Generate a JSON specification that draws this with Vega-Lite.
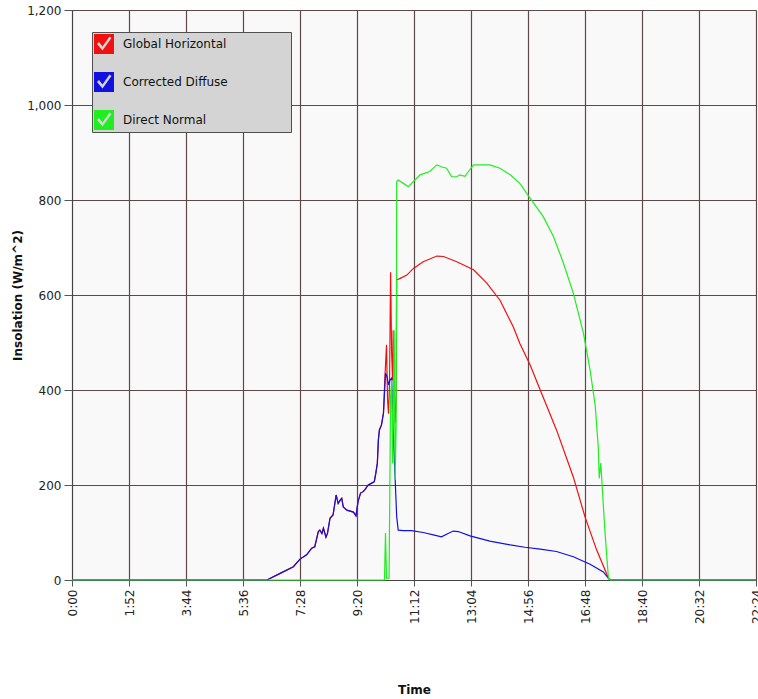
{
  "$schema": "https://vega.github.io/schema/vega-lite/v6.json",
  "width": 684,
  "height": 570,
  "autosize": {"type": "none"},
  "padding": {"left": 72, "top": 10, "right": 2, "bottom": 119},
  "background": "#ffffff",
  "config": {
    "view": {"fill": "#f9f9f9", "stroke": null},
    "font": "DejaVu Sans"
  },
  "datasets": {
    "gh": [[0,0],[383,0],[409,14],[435,28],[448,44],[461,53],[471,67],[477,70],[484,102],[487,105],[491,98],[494,109],[499,90],[502,98],[507,130],[513,137],[519,179],[523,161],[527,168],[530,172],[533,154],[540,147],[553,143],[558,135],[562,165],[567,183],[572,186],[576,191],[582,200],[589,204],[594,207],[597,225],[600,246],[602,295],[604,316],[608,326],[612,351],[615,430],[618,495],[620,380],[622,350],[624,420],[626,648],[628,480],[630,420],[631,526],[633,420],[635,330],[637,380],[638,632],[645,635],[658,642],[671,656],[690,670],[717,682],[730,681],[756,670],[789,653],[815,625],[841,589],[867,533],[880,498],[900,453],[920,400],[952,316],[985,217],[1008,133],[1031,63],[1054,4],[1057,0],[1344,0]],
    "cd": [[0,0],[383,0],[409,14],[435,28],[448,44],[461,53],[471,67],[477,70],[484,102],[487,105],[491,98],[494,109],[499,90],[502,98],[507,130],[513,137],[519,179],[523,161],[527,168],[530,172],[533,154],[540,147],[553,143],[558,135],[562,165],[567,183],[572,186],[576,191],[582,200],[589,204],[594,207],[597,225],[600,246],[602,295],[604,316],[608,326],[612,351],[614,393],[616,435],[619,428],[622,411],[625,421],[628,425],[631,316],[635,211],[638,133],[641,105],[651,104],[667,104],[690,100],[710,95],[726,91],[739,98],[749,103],[759,102],[782,93],[821,82],[861,74],[890,69],[920,65],[952,60],[985,49],[1018,33],[1044,17],[1054,4],[1057,0],[1344,0]],
    "dn": [[0,0],[614,0],[616,99],[618,4],[623,4],[626,386],[628,421],[630,246],[633,526],[635,211],[637,337],[638,839],[641,842],[651,835],[661,828],[671,839],[684,853],[703,860],[717,874],[726,870],[736,867],[746,849],[756,849],[762,853],[772,850],[779,860],[789,874],[808,874],[821,874],[841,867],[861,853],[880,835],[900,804],[926,765],[946,723],[965,669],[985,604],[1005,519],[1018,442],[1028,368],[1034,281],[1036,214],[1039,246],[1041,211],[1047,105],[1054,4],[1057,0],[1344,0]]
  },
  "encoding": {
    "x": {
      "field": "t", "type": "quantitative",
      "scale": {"domain": [0, 1344], "nice": false, "zero": false},
      "axis": {
        "values": [0,112,224,336,448,560,672,784,896,1008,1120,1232,1344],
        "labelExpr": "floor(datum.value/60) + ':' + (datum.value % 60 < 10 ? '0' : '') + (datum.value % 60)",
        "labelAngle": 270,
        "labelFont": "DejaVu Sans", "labelFontSize": 12, "labelColor": "#222",
        "labelPadding": 3,
        "grid": true, "gridColor": "#5e4848", "gridWidth": 1.2,
        "tickColor": "#555", "tickSize": 6, "domainColor": "#444",
        "title": "Time", "titleFont": "DejaVu Sans", "titleFontSize": 12, "titleFontWeight": "bold", "titleColor": "#111",
        "titlePadding": 61
      }
    },
    "y": {
      "field": "v", "type": "quantitative",
      "scale": {"domain": [0, 1200], "nice": false},
      "axis": {
        "values": [0,200,400,600,800,1000,1200],
        "format": ",d",
        "labelFont": "DejaVu Sans", "labelFontSize": 12, "labelColor": "#222",
        "labelPadding": 3,
        "grid": true, "gridColor": "#5e4848", "gridWidth": 1.2,
        "tickColor": "#555", "tickSize": 8, "domainColor": "#444",
        "title": "Insolation (W/m^2)", "titleFont": "DejaVu Sans", "titleFontSize": 12, "titleFontWeight": "bold", "titleColor": "#111",
        "titlePadding": 2
      }
    },
    "color": {
      "field": "series", "type": "nominal",
      "scale": {"domain": ["Global Horizontal", "Corrected Diffuse", "Direct Normal"], "range": ["#f01010", "#1010e0", "#20ee20"]},
      "legend": {
        "title": null,
        "orient": "none", "legendX": 20, "legendY": 22,
        "fillColor": "#d4d4d4", "strokeColor": "#505050",
        "padding": 2,
        "symbolType": "M-1,-1H1V1H-1Z M-0.7,0L-0.15,0.65L0.75,-0.6L0.55,-0.75L-0.15,0.25L-0.5,-0.2Z",
        "symbolSize": 400,
        "symbolStrokeWidth": 0,
        "rowPadding": 18,
        "labelOffset": 9,
        "labelLimit": 400,
        "labelFont": "DejaVu Sans", "labelFontSize": 12, "labelColor": "#111",
        "labelExpr": "datum.label + '\u00a0\u00a0\u00a0\u00a0\u00a0\u00a0\u00a0\u00a0\u00a0\u00a0\u00a0\u00a0\u00a0\u00a0\u00a0\u00a0\u200b'",
        "encode": {"symbols": {"update": {"fill": {"scale": "color", "field": "value"}, "fillOpacity": {"value": 1}, "stroke": {"value": "transparent"}}}}
      }
    }
  },
  "layer": [
    {
      "data": {"name": "gh"},
      "transform": [{"calculate": "datum[0]", "as": "t"}, {"calculate": "datum[1]", "as": "v"}, {"calculate": "'Global Horizontal'", "as": "series"}],
      "mark": {"type": "line", "strokeWidth": 1.2}
    },
    {
      "data": {"name": "cd"},
      "transform": [{"calculate": "datum[0]", "as": "t"}, {"calculate": "datum[1]", "as": "v"}, {"calculate": "'Corrected Diffuse'", "as": "series"}],
      "mark": {"type": "line", "strokeWidth": 1.2}
    },
    {
      "data": {"name": "dn"},
      "transform": [{"calculate": "datum[0]", "as": "t"}, {"calculate": "datum[1]", "as": "v"}, {"calculate": "'Direct Normal'", "as": "series"}],
      "mark": {"type": "line", "strokeWidth": 1.2}
    }
  ]
}
